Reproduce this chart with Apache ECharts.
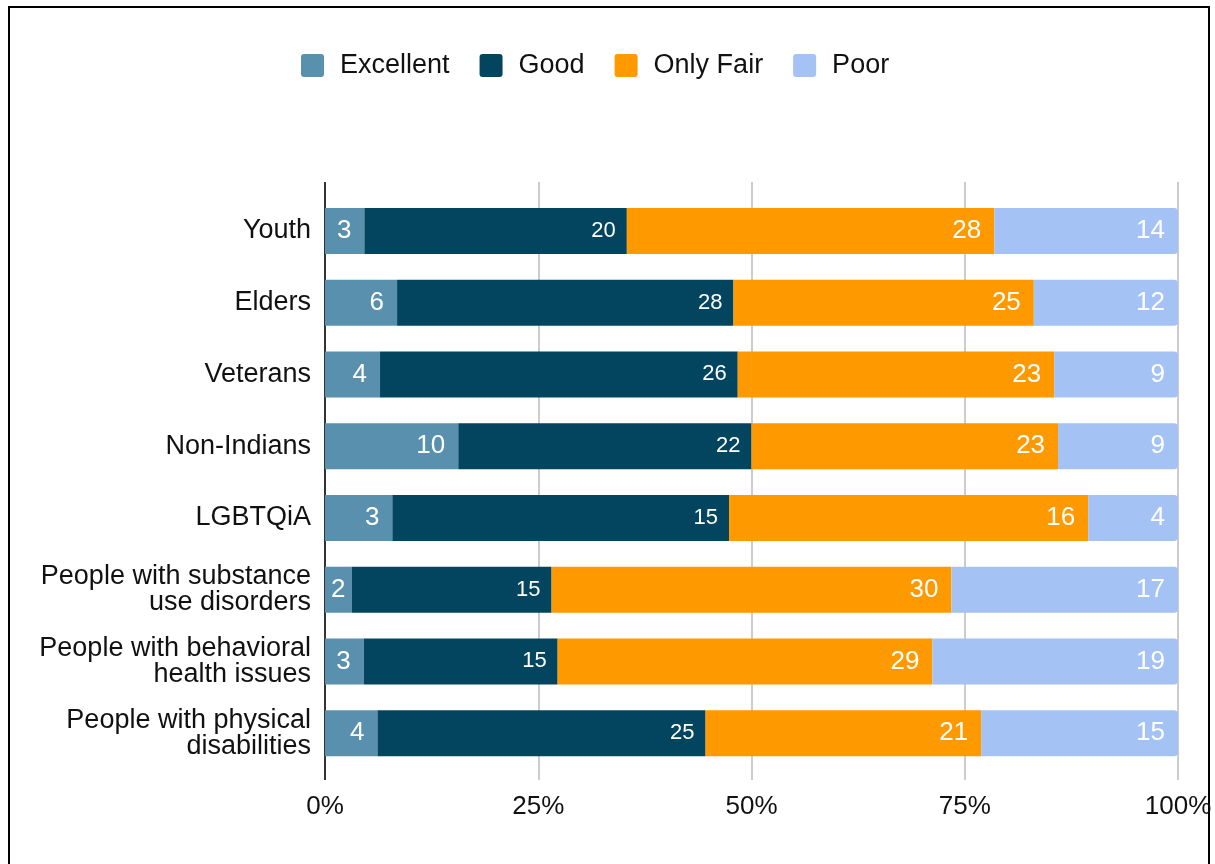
<!DOCTYPE html>
<html><head><meta charset="utf-8">
<script src="https://cdn.jsdelivr.net/npm/echarts@6/dist/echarts.min.js"></script>
<style>
html,body{margin:0;padding:0;background:#fff;}
#frame{position:absolute;left:8px;top:6px;width:1202px;height:900px;border:2px solid #000;border-bottom:none;box-sizing:border-box;}
#chart{position:absolute;left:0;top:0;width:1215px;height:864px;}
</style></head>
<body>
<div id="frame"></div>
<div id="chart"></div>
<script>
const categories = ["Youth","Elders","Veterans","Non-Indians","LGBTQiA","People with substance\nuse disorders","People with behavioral\nhealth issues","People with physical\ndisabilities"];
const seriesNames = ["Excellent","Good","Only Fair","Poor"];
const excellent = [3,6,4,10,3,2,3,4];
const good = [20,28,26,22,15,15,15,25];
const onlyFair = [28,25,23,23,16,30,29,21];
const poor = [14,12,9,9,4,17,19,15];
const tickLabels = ["0%","25%","50%","75%","100%"];
const colors = ["#5890ae","#03445e","#ff9900","#a4c2f4"];

const raw = [excellent, good, onlyFair, poor];
const totals = categories.map((c,i)=>raw.reduce((s,a)=>s+a[i],0));
const chart = echarts.init(document.getElementById('chart'));
const font = "'Liberation Sans', Arial, sans-serif";
const series = raw.map((arr,k)=>({
  name: seriesNames[k], type:'bar', stack:'t', barWidth:46,
  data: arr.map((v,i)=>{
    const pct = v/totals[i]*100;
    const d = {value: pct, raw: v};
    if (pct < 4) d.label = {position:'inside'};
    return d;
  }),
  itemStyle:{color:colors[k], borderRadius: k===3?[0,4,4,0]:0},
  label:{show:true, position:'insideRight', distance: k===1?11:13, color:'#fff',
    fontFamily:font, fontSize: k===1?22:26,
    formatter: p=>p.data.raw}
}));
chart.setOption({
  animation:false,
  color: colors,
  legend:{top:47, left:296, itemWidth:23, itemHeight:23, itemGap:30,
    icon:'path://M3,0 H20 Q23,0 23,3 V20 Q23,23 20,23 H3 Q0,23 0,20 V3 Q0,0 3,0 Z',
    textStyle:{fontFamily:font, fontSize:27, color:'#111', padding:[0,0,0,11]},
    data: seriesNames},
  grid:{left:325, right:37, top:195, bottom:95, containLabel:false},
  xAxis:[{type:'value', min:0, max:100, interval:25, position:'bottom',
    axisLine:{show:false}, axisTick:{show:true, length:11, lineStyle:{color:'#ccc', width:2}},
    splitLine:{show:true, lineStyle:{color:'#ccc', width:2}},
    axisLabel:{formatter:(v)=>tickLabels[v/25], fontFamily:font, fontSize:26, color:'#111', margin:25}},
   {type:'value', min:0, max:100, interval:25, position:'top',
    axisLine:{show:false}, axisTick:{show:true, length:13, lineStyle:{color:'#ccc', width:2}},
    splitLine:{show:false}, axisLabel:{show:false}}],
  yAxis:{type:'category', data:categories, inverse:true,
    axisLine:{show:true, lineStyle:{color:'#333', width:2}}, axisTick:{show:false},
    axisLabel:{fontFamily:font, fontSize:27, color:'#111', margin:14, lineHeight:26, align:'right'}},
  series: series
});
const p0 = chart.convertToPixel({xAxisIndex:0}, 0);
const grid = chart.getModel().getComponent('grid').coordinateSystem.getRect();
chart.setOption({graphic:[
  {type:'line', shape:{x1:p0, y1:grid.y-13, x2:p0, y2:grid.y}, style:{stroke:'#333', lineWidth:2}, z:10},
  {type:'line', shape:{x1:p0, y1:grid.y+grid.height, x2:p0, y2:grid.y+grid.height+11}, style:{stroke:'#333', lineWidth:2}, z:10}
]});
</script>
</body></html>
